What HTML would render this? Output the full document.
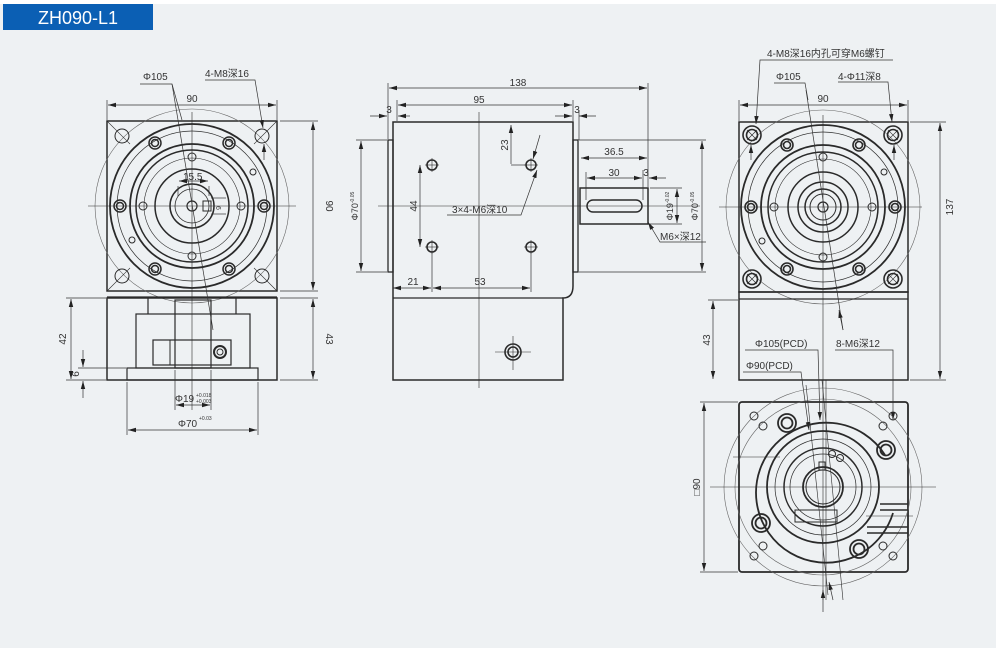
<!DOCTYPE html>
<html><head><meta charset="utf-8"><style>
html,body{margin:0;padding:0;background:#fff;}
svg{display:block;}
text{font-family:"Liberation Sans","Noto Sans CJK SC",sans-serif;fill:#333;}
</style></head><body>
<svg width="1000" height="648" viewBox="0 0 1000 648" xmlns="http://www.w3.org/2000/svg">
<defs>
<marker id="a" markerWidth="8" markerHeight="6" refX="8" refY="3" orient="auto-start-reverse" markerUnits="userSpaceOnUse"><path d="M0,0.8 L8,3 L0,5.2z" fill="#222"/></marker>
</defs>
<rect x="0" y="4" width="996" height="644" fill="#eef1f3"/>
<rect x="3" y="4" width="150" height="26" fill="#0b5fb4"/>
<text x="78" y="24" font-size="18" text-anchor="middle" style="fill:#fff">ZH090-L1</text>

<!-- ============ LEFT VIEW ============ -->
<g fill="none" stroke="#2a2a2a">
<rect x="107" y="121" width="170" height="170" stroke-width="1.5"/>
<circle cx="192" cy="206" r="97" stroke-width="0.6" stroke="#666"/>
<circle cx="192" cy="206" r="82" stroke-width="1.8"/>
<circle cx="192" cy="206" r="75" stroke-width="0.7"/>
<circle cx="192" cy="206" r="62" stroke-width="1.8"/>
<circle cx="192" cy="206" r="56" stroke-width="1.5"/>
<circle cx="192" cy="206" r="48" stroke-width="0.6"/>
<circle cx="192" cy="206" r="37" stroke-width="1.5"/>
<circle cx="192" cy="206" r="22" stroke-width="1.5"/>
<circle cx="192" cy="206" r="17" stroke-width="0.8"/>
<circle cx="192" cy="206" r="5" stroke-width="1.2"/>
<rect x="203" y="201" width="8" height="10" stroke-width="1"/>
<g stroke-width="1.5">
<circle cx="120" cy="206" r="6"/><circle cx="120" cy="206" r="3.5"/>
<circle cx="264" cy="206" r="6"/><circle cx="264" cy="206" r="3.5"/>
<circle cx="155" cy="143" r="6"/><circle cx="155" cy="143" r="3.5"/>
<circle cx="229" cy="143" r="6"/><circle cx="229" cy="143" r="3.5"/>
<circle cx="155" cy="269" r="6"/><circle cx="155" cy="269" r="3.5"/>
<circle cx="229" cy="269" r="6"/><circle cx="229" cy="269" r="3.5"/>
</g>
<g stroke-width="1">
<circle cx="122" cy="136" r="7"/><circle cx="262" cy="136" r="7"/>
<circle cx="122" cy="276" r="7"/><circle cx="262" cy="276" r="7"/>
<circle cx="192" cy="157" r="4"/><circle cx="192" cy="256" r="4"/>
<circle cx="143" cy="206" r="4"/><circle cx="241" cy="206" r="4"/>
<circle cx="253" cy="172" r="3"/><circle cx="132" cy="240" r="3"/>
</g>
<g stroke-width="0.6">
<line x1="107" y1="121" x2="130" y2="144"/><line x1="277" y1="121" x2="254" y2="144"/>
<line x1="107" y1="291" x2="130" y2="268"/><line x1="277" y1="291" x2="254" y2="268"/>
<line x1="88" y1="206" x2="296" y2="206"/><line x1="192" y1="112" x2="192" y2="410"/>
</g>
<!-- lower body -->
<line x1="107" y1="297" x2="277" y2="297" stroke-width="1.2"/>
<rect x="107" y="298" width="170" height="82" stroke-width="1.5"/>
<rect x="127" y="368" width="131" height="12" stroke-width="1.2"/>
<rect x="136" y="314" width="114" height="54" stroke-width="1.2"/>
<line x1="148" y1="298" x2="148" y2="314" stroke-width="1.2"/>
<line x1="236" y1="298" x2="236" y2="314" stroke-width="1.2"/>
<rect x="175" y="300" width="36" height="68" stroke-width="1.2"/>
<rect x="153" y="340" width="78" height="25" stroke-width="1.2"/>
<line x1="170" y1="340" x2="170" y2="365" stroke-width="1"/>
<circle cx="220" cy="352" r="6" stroke-width="2"/><circle cx="220" cy="352" r="3" stroke-width="1"/>
</g>
<!-- left dims -->
<g stroke="#333" stroke-width="0.7" fill="none">
<line x1="107" y1="100" x2="107" y2="120"/><line x1="277" y1="100" x2="277" y2="120"/>
<line x1="108" y1="105" x2="276" y2="105" marker-start="url(#a)" marker-end="url(#a)"/>
<line x1="280" y1="121" x2="318" y2="121"/><line x1="280" y1="291" x2="318" y2="291"/>
<line x1="313" y1="122" x2="313" y2="290" marker-start="url(#a)" marker-end="url(#a)"/>
<line x1="280" y1="298" x2="318" y2="298"/><line x1="280" y1="380" x2="318" y2="380"/>
<line x1="313" y1="299" x2="313" y2="379" marker-start="url(#a)" marker-end="url(#a)"/>
<line x1="66" y1="298" x2="106" y2="298"/><line x1="66" y1="380" x2="106" y2="380"/>
<line x1="71" y1="299" x2="71" y2="379" marker-start="url(#a)" marker-end="url(#a)"/>
<line x1="78" y1="368" x2="126" y2="368"/>
<line x1="83" y1="350" x2="83" y2="367" marker-end="url(#a)"/>
<line x1="83" y1="398" x2="83" y2="381" marker-end="url(#a)"/>
<line x1="175" y1="370" x2="175" y2="410"/><line x1="211" y1="370" x2="211" y2="410"/>
<line x1="176" y1="405" x2="210" y2="405" marker-start="url(#a)" marker-end="url(#a)"/>
<line x1="127" y1="382" x2="127" y2="435"/><line x1="258" y1="382" x2="258" y2="435"/>
<line x1="128" y1="430" x2="257" y2="430" marker-start="url(#a)" marker-end="url(#a)"/>
<polyline points="140,84 172,84 182,120"/><line x1="172" y1="84" x2="213" y2="330"/>
<polyline points="205,80 255,80 263,128" marker-end="url(#a)"/>
<line x1="264" y1="160" x2="264" y2="144" marker-end="url(#a)"/>
<line x1="178" y1="186" x2="178" y2="196"/><line x1="209" y1="186" x2="209" y2="196"/>
<line x1="179" y1="181" x2="208" y2="181" marker-start="url(#a)" marker-end="url(#a)"/>
<line x1="211" y1="198" x2="226" y2="198"/><line x1="211" y1="214" x2="226" y2="214"/>
</g>
<g font-size="10">
<text x="143" y="80">Φ105</text>
<text x="205" y="77">4-M8深16</text>
<text x="192" y="102" text-anchor="middle">90</text>
<text x="183" y="180">15.5</text>
<text x="326" y="206" transform="rotate(90 326 206)" text-anchor="middle">90</text>
<text x="326" y="339" transform="rotate(90 326 339)" text-anchor="middle">43</text>
<text x="66" y="339" transform="rotate(-90 66 339)" text-anchor="middle">42</text>
<text x="79" y="374" transform="rotate(-90 79 374)" text-anchor="middle">6</text>
<text x="175" y="402">Φ19</text><text x="196" y="397" font-size="5">+0.018</text><text x="196" y="403" font-size="5">+0.003</text>
<text x="178" y="427">Φ70</text><text x="199" y="420" font-size="5">+0.03</text>
<text x="220" y="210" font-size="7" transform="rotate(90 220 206)">6</text>
</g>

<!-- ============ MIDDLE VIEW ============ -->
<g fill="none" stroke="#2a2a2a">
<path d="M393,122 H573 V286 Q573,298 563,298 V380 H393 Z" stroke-width="1.5"/>
<line x1="393" y1="298" x2="563" y2="298" stroke-width="1.2"/>
<rect x="388" y="140" width="5" height="132" stroke-width="1.3"/>
<rect x="573" y="140" width="5" height="132" stroke-width="1.3"/>
<rect x="580" y="188" width="68" height="36" stroke-width="1.5"/>
<rect x="587" y="200" width="55" height="12" rx="6" stroke-width="1.5"/>
<g stroke-width="1.6">
<circle cx="432" cy="165" r="5"/><circle cx="531" cy="165" r="5"/>
<circle cx="432" cy="247" r="5"/><circle cx="531" cy="247" r="5"/>
<circle cx="513" cy="352" r="8"/><circle cx="513" cy="352" r="5"/>
</g>
<g stroke-width="0.6">
<line x1="479" y1="112" x2="479" y2="388"/><line x1="378" y1="206" x2="700" y2="206"/>
<line x1="495" y1="352" x2="531" y2="352"/><line x1="513" y1="336" x2="513" y2="370"/>
<line x1="425" y1="165" x2="439" y2="165"/><line x1="432" y1="158" x2="432" y2="172"/>
<line x1="524" y1="165" x2="538" y2="165"/><line x1="531" y1="158" x2="531" y2="172"/>
<line x1="425" y1="247" x2="439" y2="247"/><line x1="432" y1="240" x2="432" y2="254"/>
<line x1="524" y1="247" x2="538" y2="247"/><line x1="531" y1="240" x2="531" y2="254"/>
</g>
</g>
<g stroke="#333" stroke-width="0.7" fill="none">
<line x1="388" y1="83" x2="388" y2="139"/><line x1="648" y1="83" x2="648" y2="187"/>
<line x1="389" y1="88" x2="647" y2="88" marker-start="url(#a)" marker-end="url(#a)"/>
<line x1="397" y1="100" x2="397" y2="121"/><line x1="573" y1="100" x2="573" y2="121"/>
<line x1="398" y1="105" x2="572" y2="105" marker-start="url(#a)" marker-end="url(#a)"/>
<line x1="370" y1="116" x2="387" y2="116" marker-end="url(#a)"/><line x1="410" y1="116" x2="398" y2="116" marker-end="url(#a)"/>
<line x1="555" y1="116" x2="572" y2="116" marker-end="url(#a)"/><line x1="596" y1="116" x2="579" y2="116" marker-end="url(#a)"/>
<line x1="579" y1="110" x2="579" y2="140"/>
<line x1="356" y1="140" x2="387" y2="140"/><line x1="356" y1="272" x2="387" y2="272"/>
<line x1="361" y1="141" x2="361" y2="271" marker-start="url(#a)" marker-end="url(#a)"/>
<line x1="579" y1="140" x2="706" y2="140"/><line x1="579" y1="272" x2="706" y2="272"/>
<line x1="702" y1="141" x2="702" y2="271" marker-start="url(#a)" marker-end="url(#a)"/>
<line x1="511" y1="125" x2="511" y2="164" marker-start="url(#a)"/><line x1="511" y1="165" x2="525" y2="165"/>
<line x1="420" y1="165" x2="420" y2="247" marker-start="url(#a)" marker-end="url(#a)"/>
<line x1="393" y1="288" x2="431" y2="288" marker-start="url(#a)" marker-end="url(#a)"/>
<line x1="433" y1="288" x2="530" y2="288" marker-start="url(#a)" marker-end="url(#a)"/>
<line x1="432" y1="253" x2="432" y2="292"/><line x1="531" y1="253" x2="531" y2="292"/>
<polyline points="447,215 521,215 537,170" marker-end="url(#a)"/>
<line x1="540" y1="135" x2="533" y2="159" marker-end="url(#a)"/>
<line x1="581" y1="158" x2="647" y2="158" marker-start="url(#a)" marker-end="url(#a)"/>
<line x1="586" y1="172" x2="586" y2="200"/><line x1="643" y1="170" x2="643" y2="200"/>
<line x1="587" y1="178" x2="642" y2="178" marker-start="url(#a)" marker-end="url(#a)"/>
<line x1="666" y1="178" x2="649" y2="178" marker-end="url(#a)"/>
<line x1="650" y1="188" x2="682" y2="188"/><line x1="650" y1="224" x2="682" y2="224"/>
<line x1="677" y1="189" x2="677" y2="223" marker-start="url(#a)" marker-end="url(#a)"/>
<polyline points="706,242 660,242 648,222" marker-end="url(#a)"/>
</g>
<g font-size="10">
<text x="518" y="86" text-anchor="middle">138</text>
<text x="479" y="103" text-anchor="middle">95</text>
<text x="389" y="113" text-anchor="middle">3</text>
<text x="577" y="113" text-anchor="middle">3</text>
<text x="508" y="145" transform="rotate(-90 508 145)" text-anchor="middle">23</text>
<text x="417" y="206" transform="rotate(-90 417 206)" text-anchor="middle">44</text>
<text x="452" y="213">3×4-M6深10</text>
<text x="413" y="285" text-anchor="middle">21</text>
<text x="480" y="285" text-anchor="middle">53</text>
<text x="614" y="155" text-anchor="middle">36.5</text>
<text x="614" y="176" text-anchor="middle">30</text>
<text x="646" y="176" text-anchor="middle">3</text>
<text x="660" y="240">M6×深12</text>
<text x="358" y="206" transform="rotate(-90 358 206)" text-anchor="middle" font-size="9">Φ70<tspan font-size="5" dy="-4">-0.05</tspan></text>
<text x="673" y="206" transform="rotate(-90 673 206)" text-anchor="middle" font-size="9">Φ19<tspan font-size="5" dy="-4">-0.02</tspan></text>
<text x="698" y="206" transform="rotate(-90 698 206)" text-anchor="middle" font-size="9">Φ70<tspan font-size="5" dy="-4">-0.05</tspan></text>
</g>

<!-- ============ RIGHT TOP VIEW ============ -->
<g fill="none" stroke="#2a2a2a">
<rect x="739" y="122" width="169" height="170" stroke-width="1.5"/>
<circle cx="823" cy="207" r="97" stroke-width="0.6" stroke="#666"/>
<circle cx="823" cy="207" r="82" stroke-width="1.8"/>
<circle cx="823" cy="207" r="75" stroke-width="0.7"/>
<circle cx="823" cy="207" r="62" stroke-width="1.8"/>
<circle cx="823" cy="207" r="55" stroke-width="1.5"/>
<circle cx="823" cy="207" r="48" stroke-width="0.6"/>
<circle cx="823" cy="207" r="35" stroke-width="1.5"/>
<circle cx="823" cy="207" r="25" stroke-width="1.5"/>
<circle cx="823" cy="207" r="18" stroke-width="1.5"/>
<circle cx="823" cy="207" r="13" stroke-width="1"/>
<circle cx="823" cy="207" r="5" stroke-width="1.2"/>
<g stroke-width="1.6">
<circle cx="752" cy="135" r="9"/><circle cx="752" cy="135" r="5.5"/>
<circle cx="893" cy="135" r="9"/><circle cx="893" cy="135" r="5.5"/>
<circle cx="752" cy="279" r="9"/><circle cx="752" cy="279" r="5.5"/>
<circle cx="893" cy="279" r="9"/><circle cx="893" cy="279" r="5.5"/>
<circle cx="751" cy="207" r="6"/><circle cx="751" cy="207" r="3.5"/>
<circle cx="895" cy="207" r="6"/><circle cx="895" cy="207" r="3.5"/>
<circle cx="787" cy="145" r="6"/><circle cx="787" cy="145" r="3.5"/>
<circle cx="859" cy="145" r="6"/><circle cx="859" cy="145" r="3.5"/>
<circle cx="787" cy="269" r="6"/><circle cx="787" cy="269" r="3.5"/>
<circle cx="859" cy="269" r="6"/><circle cx="859" cy="269" r="3.5"/>
</g>
<g stroke-width="1">
<circle cx="823" cy="157" r="4"/><circle cx="823" cy="257" r="4"/>
<circle cx="774" cy="207" r="4"/><circle cx="872" cy="207" r="4"/>
<circle cx="884" cy="172" r="3"/><circle cx="762" cy="241" r="3"/>
</g>
<g stroke-width="0.6">
<line x1="719" y1="207" x2="922" y2="207"/><line x1="823" y1="115" x2="823" y2="600"/>
<line x1="747" y1="130" x2="757" y2="140"/><line x1="757" y1="130" x2="747" y2="140"/>
<line x1="888" y1="130" x2="898" y2="140"/><line x1="898" y1="130" x2="888" y2="140"/>
<line x1="747" y1="274" x2="757" y2="284"/><line x1="757" y1="274" x2="747" y2="284"/>
<line x1="888" y1="274" x2="898" y2="284"/><line x1="898" y1="274" x2="888" y2="284"/>
</g>
<line x1="739" y1="299" x2="908" y2="299" stroke-width="1.2"/>
<rect x="739" y="292" width="169" height="88" stroke-width="1.5"/>
</g>
<g stroke="#333" stroke-width="0.7" fill="none">
<line x1="739" y1="100" x2="739" y2="121"/><line x1="908" y1="100" x2="908" y2="121"/>
<line x1="740" y1="105" x2="907" y2="105" marker-start="url(#a)" marker-end="url(#a)"/>
<line x1="910" y1="122" x2="946" y2="122"/><line x1="910" y1="380" x2="946" y2="380"/>
<line x1="940" y1="123" x2="940" y2="379" marker-start="url(#a)" marker-end="url(#a)"/>
<line x1="708" y1="300" x2="738" y2="300"/>
<line x1="713" y1="301" x2="713" y2="379" marker-start="url(#a)" marker-end="url(#a)"/>
<polyline points="893,60 760,60 756,124" marker-end="url(#a)"/>
<line x1="751" y1="160" x2="751" y2="145" marker-end="url(#a)"/>
<polyline points="774,83 805,83 808,100"/><line x1="806" y1="90" x2="843" y2="330"/>
<polyline points="838,82 888,82 892,122" marker-end="url(#a)"/>
<line x1="894" y1="160" x2="894" y2="145" marker-end="url(#a)"/>
<line x1="843" y1="330" x2="839" y2="310" marker-end="url(#a)"/>
<polyline points="745,350 818,350 820,420" marker-end="url(#a)"/>
<polyline points="743,372 801,372 809,430" marker-end="url(#a)"/>
<polyline points="835,350 893,350 893,420" marker-end="url(#a)"/>
</g>
<g font-size="10">
<text x="767" y="57">4-M8深16内孔可穿M6螺钉</text>
<text x="776" y="80">Φ105</text>
<text x="838" y="80">4-Φ11深8</text>
<text x="823" y="102" text-anchor="middle">90</text>
<text x="953" y="207" transform="rotate(-90 953 207)" text-anchor="middle">137</text>
<text x="710" y="340" transform="rotate(-90 710 340)" text-anchor="middle">43</text>
<text x="755" y="347">Φ105(PCD)</text>
<text x="746" y="369">Φ90(PCD)</text>
<text x="836" y="347">8-M6深12</text>
</g>

<!-- ============ RIGHT BOTTOM VIEW ============ -->
<g fill="none" stroke="#2a2a2a">
<rect x="739" y="402" width="169" height="170" rx="3" stroke-width="1.8"/>
<circle cx="823" cy="487" r="99" stroke-width="0.6" stroke="#666"/>
<circle cx="823" cy="487" r="88" stroke-width="0.6" stroke="#666"/>
<path d="M885,455 A70,70 0 1 0 893,513" stroke-width="1.8"/>
<circle cx="823" cy="487" r="56" stroke-width="1.8"/>
<circle cx="823" cy="487" r="48" stroke-width="0.7"/>
<circle cx="823" cy="487" r="39" stroke-width="1.5"/>
<circle cx="823" cy="487" r="33" stroke-width="0.7"/>
<circle cx="823" cy="487" r="20" stroke-width="1.8"/>
<circle cx="823" cy="487" r="17" stroke-width="1"/>
<rect x="795" y="510" width="42" height="12" stroke-width="1"/>
<rect x="819" y="462" width="6" height="8" stroke-width="1"/>
<g stroke-width="1.8">
<circle cx="787" cy="423" r="9"/><circle cx="787" cy="423" r="5.5"/>
<circle cx="886" cy="450" r="9"/><circle cx="886" cy="450" r="5.5"/>
<circle cx="761" cy="523" r="9"/><circle cx="761" cy="523" r="5.5"/>
<circle cx="859" cy="549" r="9"/><circle cx="859" cy="549" r="5.5"/>
</g>
<g stroke-width="1">
<circle cx="754" cy="416" r="4"/><circle cx="763" cy="426" r="4"/>
<circle cx="893" cy="416" r="4"/><circle cx="883" cy="426" r="4"/>
<circle cx="754" cy="556" r="4"/><circle cx="763" cy="546" r="4"/>
<circle cx="893" cy="556" r="4"/><circle cx="883" cy="546" r="4"/>
<circle cx="832" cy="454" r="3.5"/><circle cx="840" cy="458" r="3.5"/>
</g>
<path d="M880,504 L908,504 M880,510 L908,510 M867,527 L908,527 M867,533 L908,533" stroke-width="1.5"/>
<g stroke-width="0.6">
<line x1="710" y1="487" x2="936" y2="487"/>
<line x1="733" y1="457" x2="780" y2="457"/><line x1="866" y1="516" x2="913" y2="516"/>
<line x1="826" y1="380" x2="826" y2="600"/>
<line x1="822" y1="380" x2="843" y2="600"/>
<line x1="806" y1="385" x2="828" y2="595"/>
</g>
</g>
<g stroke="#333" stroke-width="0.7" fill="none">
<line x1="700" y1="402" x2="738" y2="402"/><line x1="700" y1="572" x2="738" y2="572"/>
<line x1="704" y1="403" x2="704" y2="571" marker-start="url(#a)" marker-end="url(#a)"/>
<line x1="823" y1="612" x2="823" y2="590" marker-end="url(#a)"/>
<line x1="833" y1="600" x2="829" y2="582" marker-end="url(#a)"/>
</g>
<text x="700" y="487" font-size="10" transform="rotate(-90 700 487)" text-anchor="middle">□90</text>
</svg>
</body></html>
